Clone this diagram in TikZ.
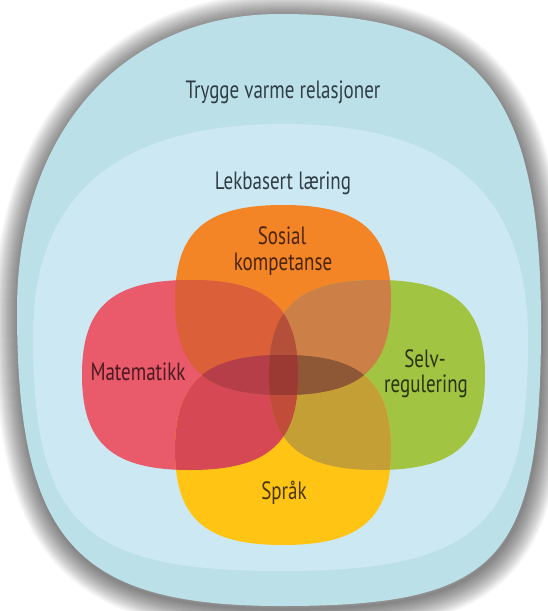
\documentclass[tikz,border=0pt]{standalone}
\usepackage{fontspec}
\newfontfamily\hand{PT Sans}[FakeStretch=0.76]
\definecolor{outerc}{HTML}{BCE0E7}
\definecolor{innerc}{HTML}{CCE9F3}
\definecolor{cR}{HTML}{E95A6B}
\definecolor{cO}{HTML}{F38526}
\definecolor{cG}{HTML}{A2C443}
\definecolor{cY}{HTML}{FFC414}
\definecolor{cRO}{HTML}{DB5F38}
\definecolor{cOG}{HTML}{CC8047}
\definecolor{cRY}{HTML}{D64954}
\definecolor{cGY}{HTML}{C49F35}
\definecolor{cRG}{HTML}{B8503C}
\definecolor{cOY}{HTML}{9A5A3A}
\definecolor{cROG}{HTML}{B4503A}
\definecolor{cROY}{HTML}{B63E48}
\definecolor{cGOY}{HTML}{8E5736}
\definecolor{cRGY}{HTML}{C24C3A}
\definecolor{cRGOY}{HTML}{9A3A33}
\definecolor{txtA}{HTML}{2F3D44}
\definecolor{txtR}{HTML}{4A1A20}
\definecolor{txtO}{HTML}{4A2408}
\definecolor{txtG}{HTML}{28330E}
\definecolor{txtY}{HTML}{4A3600}
% squircle-like blob: centre x, centre y, half width, half height, control factor
\newcommand{\blobpath}[5]{({#1+#3},{#2}) .. controls ({#1+#3},{#2+#5*#4}) and ({#1+#5*#3},{#2+#4}) .. ({#1},{#2+#4}) .. controls ({#1-#5*#3},{#2+#4}) and ({#1-#3},{#2+#5*#4}) .. ({#1-#3},{#2}) .. controls ({#1-#3},{#2-#5*#4}) and ({#1-#5*#3},{#2-#4}) .. ({#1},{#2-#4}) .. controls ({#1+#5*#3},{#2-#4}) and ({#1+#3},{#2-#5*#4}) .. cycle}
\newcommand{\pR}{\blobpath{190}{375}{108}{95}{0.72}}
\newcommand{\pO}{\blobpath{283}{300}{108}{95}{0.72}}
\newcommand{\pG}{\blobpath{377}{375}{108}{95}{0.72}}
\newcommand{\pY}{\blobpath{283}{450}{108}{95}{0.72}}
\newcommand{\outerpath}{(541,325) .. controls (541,{325+0.84*281}) and ({282+0.84*259},606) .. (282,606)
  .. controls ({282-0.78*265},606) and (17,{310+0.78*296}) .. (17,310)
  .. controls (17,{310-0.60*296}) and ({280-0.60*263},14) .. (280,14)
  .. controls ({280+0.76*261},14) and (541,{325-0.76*311}) .. cycle}
\begin{document}
\begin{tikzpicture}[x=1pt,y=-1pt,
  lbl/.style={font=\hand\fontsize{25}{27}\selectfont, inner sep=0pt, anchor=base},
  shadowring/.style={draw=black, draw opacity=0.022, line join=round}]
\useasboundingbox (0,0) rectangle (548,611);
\fill[white] (0,0) rectangle (548,611);
% soft shadow of the outer shape
\begin{scope}[shift={(1,3)}]
\foreach \i in {1,...,24} {
  \path[shadowring, line width=2*\i pt] \outerpath;
}
\end{scope}
% outer shape
\fill[outerc] \outerpath;
% inner shape
\fill[innerc]
  (528,340) .. controls (528,{340+0.8*231}) and ({281+0.8*247},571) .. (281,571)
  .. controls ({281-0.8*248},571) and (33,{335+0.8*236}) .. (33,335)
  .. controls (33,{335-0.66*211}) and ({282-0.66*249},124) .. (282,124)
  .. controls ({282+0.68*246},124) and (528,{340-0.68*216}) .. cycle;
% single blobs
\fill[cO] \pO;
\fill[cR] \pR;
\fill[cG] \pG;
\fill[cY] \pY;
% pairwise overlaps
\begin{scope}\clip \pR; \fill[cRO] \pO; \end{scope}
\begin{scope}\clip \pO; \fill[cOG] \pG; \end{scope}
\begin{scope}\clip \pR; \fill[cRY] \pY; \end{scope}
\begin{scope}\clip \pG; \fill[cGY] \pY; \end{scope}
\begin{scope}\clip \pR; \fill[cRG] \pG; \end{scope}
\begin{scope}\clip \pO; \fill[cOY] \pY; \end{scope}
% triple overlaps
\begin{scope}\clip \pR; \clip \pO; \fill[cROG] \pG; \end{scope}
\begin{scope}\clip \pR; \clip \pO; \fill[cROY] \pY; \end{scope}
\begin{scope}\clip \pG; \clip \pO; \fill[cGOY] \pY; \end{scope}
\begin{scope}\clip \pR; \clip \pG; \fill[cRGY] \pY; \end{scope}
% centre
\begin{scope}\clip \pR; \clip \pG; \clip \pO; \fill[cRGOY] \pY; \end{scope}
% labels
\node[lbl, text=txtA] (trygge) at (283,98) {Trygge varme relasjoner};
\node[lbl, text=txtA] (lek) at (283,189) {Lekbasert læring};
\node[lbl, text=txtO] (sosial) at (282,244) {Sosial};
\node[lbl, text=txtO] (komp) at (283,270) {kompetanse};
\node[lbl, text=txtR] (mat) at (138,380) {Matematikk};
\node[lbl, text=txtG] (selv) at (425,367) {Selv-};
\node[lbl, text=txtG] (reg) at (426,392) {regulering};
\node[lbl, text=txtY] (sprak) at (284,499) {Språk};
\end{tikzpicture}
\end{document}
